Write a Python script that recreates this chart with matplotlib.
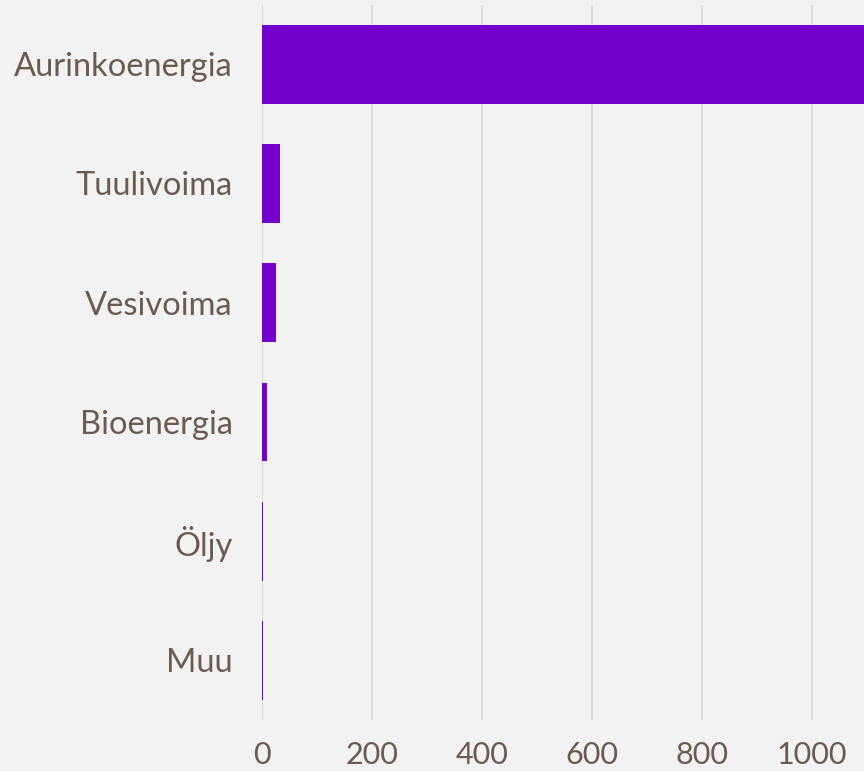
import matplotlib.pyplot as plt

# energy sources, top to bottom
sources = ['Aurinkoenergia', 'Tuulivoima', 'Vesivoima', 'Bioenergia', 'Öljy', 'Muu']
values = [1100, 33, 25, 9, 1, 2.5]
xticks = [0, 200, 400, 600, 800, 1000]

text_col = '#6b5b4e'
bar_col = '#7300cc'
bg = '#f2f2f2'

plt.rcParams['font.family'] = ['Lato', 'DejaVu Sans']

fig = plt.figure(figsize=(8.64, 7.71), dpi=100, facecolor=bg)
ax = fig.add_axes([0.3032, 0.0661, 0.6968, 0.928])
ax.set_facecolor(bg)

pos = list(range(len(sources)))
ax.barh(pos, values, height=0.66, color=bar_col, zorder=3)
ax.set_ylim(len(sources) - 0.5, -0.5)
ax.set_xlim(0, 1094)

ax.set_yticks(pos)
ax.set_yticklabels(sources)
ax.set_xticks(xticks)
ax.set_xticklabels([str(t) for t in xticks])
ax.tick_params(axis='both', length=0, labelcolor=text_col)
ax.tick_params(axis='y', pad=21, labelsize=23.5)
ax.tick_params(axis='x', pad=15, labelsize=22)

ax.grid(axis='x', color='#d9d9d9', linewidth=1.3, zorder=0)
for s in ax.spines.values():
    s.set_visible(False)

fig.savefig('out.png', dpi=100, facecolor=bg)
